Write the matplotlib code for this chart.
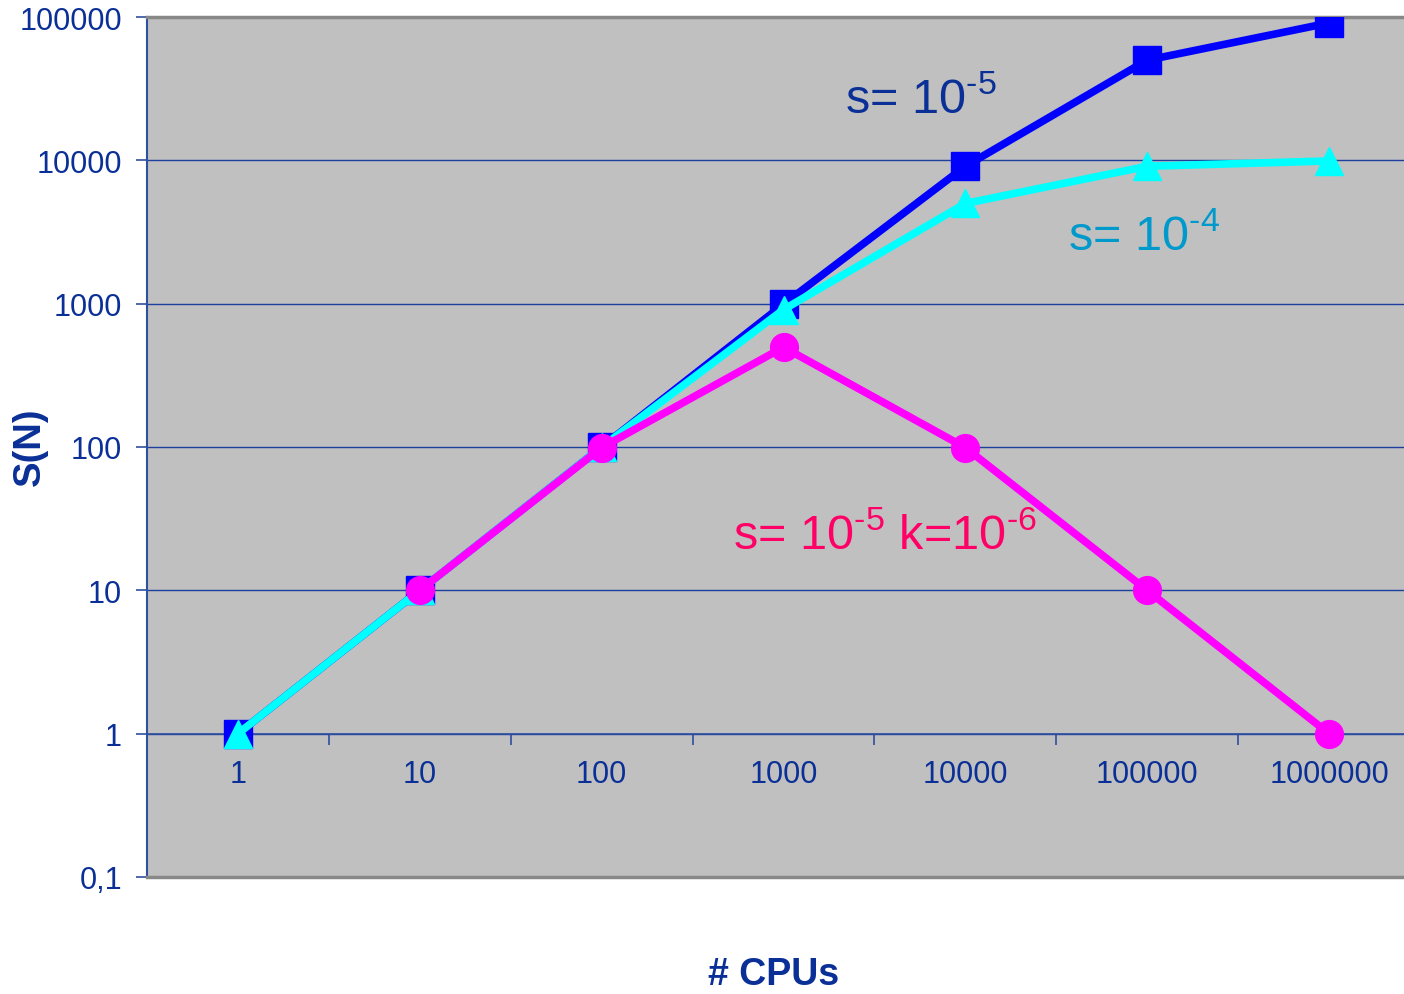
import matplotlib
matplotlib.use("Agg")
from matplotlib import pyplot as plt
from matplotlib.lines import Line2D

plt.rcParams['font.family'] = ['Liberation Sans', 'DejaVu Sans']
plt.rcParams['mathtext.fontset'] = 'custom'
plt.rcParams['mathtext.rm'] = 'Liberation Sans'

# number of CPUs (category axis)
cpus = ['1', '10', '100', '1000', '10000', '100000', '1000000']
# speedup S(N) per serial fraction s
s_1e5 = [1, 10, 100, 990, 9090, 50000, 90900]
s_1e4 = [1, 10, 100, 909, 5000, 9090, 9900]
# s=1e-5 with communication cost k=1e-6, starts at 10 CPUs
s_1e5_k = [10, 99, 497, 99, 10, 1]

y_ticks = [0.1, 1, 10, 100, 1000, 10000, 100000]
y_labels = ['0,1', '1', '10', '100', '1000', '10000', '100000']

TXT = '#0a2f96'
AXIS = '#2f4fa0'

fig = plt.figure(figsize=(14.04, 9.95), dpi=100)
ax = fig.add_axes([147 / 1404, 1 - 878 / 995, (1420 - 147) / 1404, (878 - 18) / 995])
ax.set_facecolor('#c0c0c0')

x = list(range(len(cpus)))
ax.plot(x, s_1e5, color='#0000ff', lw=5.5, marker='s', ms=20, mec='#0000ff', zorder=3)
ax.plot(x, s_1e4, color='#00ffff', lw=5.5, marker='^', ms=20, mec='#00ffff', zorder=4)
ax.plot(x[1:], s_1e5_k, color='#ff00ff', lw=5.5, marker='o', ms=20, mec='#ff00ff', zorder=5)

ax.set_yscale('log')
ax.set_ylim(0.1, 100000)
ax.set_xlim(-0.5, len(cpus) - 0.5)

ax.set_yticks(y_ticks)
ax.set_yticklabels(y_labels)
ax.minorticks_off()
ax.tick_params(axis='y', direction='out', length=8, width=1.2, color=AXIS,
               labelcolor=TXT, labelsize=22, pad=10)

# x axis crosses at S=1, tick marks between categories, labels on the categories
ax.set_xticks([i + 0.5 for i in range(len(cpus) - 1)])
ax.set_xticklabels([])
ax.set_xticks(x, minor=True)
ax.set_xticklabels(cpus, minor=True)
ax.tick_params(axis='x', which='major', direction='out', length=8, width=1.2, color=AXIS)
ax.tick_params(axis='x', which='minor', length=0, labelcolor=TXT, labelsize=22, pad=18)

ax.yaxis.grid(True, color='#1f3f9f', lw=1.0)
ax.set_axisbelow(True)

ax.spines['bottom'].set_position(('data', 1))
ax.spines['bottom'].set_color(AXIS)
ax.spines['bottom'].set_linewidth(1.2)
ax.spines['left'].set_color(AXIS)
ax.spines['left'].set_linewidth(1.5)
ax.spines['top'].set_color('#888888')
ax.spines['top'].set_linewidth(2.5)
ax.spines['right'].set_visible(False)
ax.add_line(Line2D([0, 1], [0, 0], transform=ax.transAxes, color='#888888',
                   lw=2.5, clip_on=False, zorder=6))

ax.text(3.34, 21700, r's= 10$^{\text{-5}}$', color='#0a2f96', fontsize=35,
        ha='left', va='baseline')
ax.text(4.566, 2400, r's= 10$^{\text{-4}}$', color='#0099cc', fontsize=35,
        ha='left', va='baseline')
ax.text(2.72, 19.4, r's= 10$^{\text{-5}}$ k=10$^{\text{-6}}$', color='#ff0066',
        fontsize=35, ha='left', va='baseline')

fig.text(30 / 1404, 1 - 447 / 995, 'S(N)', rotation=90, color=TXT, fontsize=27.5,
         fontweight='bold', ha='center', va='center')
fig.text(774 / 1404, 1 - 975 / 995, '# CPUs', color=TXT, fontsize=27,
         fontweight='bold', ha='center', va='center')

fig.savefig('out.png', dpi=100)
